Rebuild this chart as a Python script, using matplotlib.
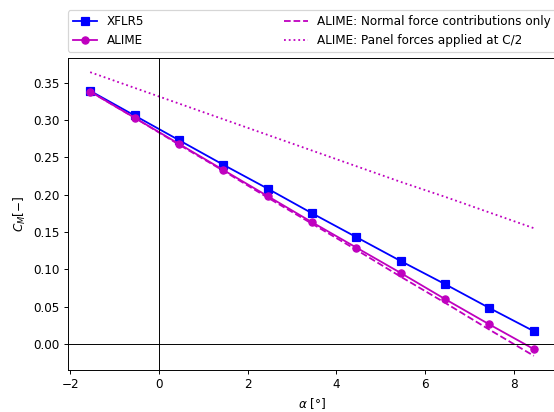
import matplotlib
matplotlib.use('Agg')
import matplotlib.pyplot as plt

# angle of attack [deg]
alpha = [-1.55, -0.55, 0.45, 1.45, 2.45, 3.45, 4.45, 5.45, 6.45, 7.45, 8.45]

# pitching moment coefficients
cm_xflr5 = [0.339, 0.306, 0.273, 0.240, 0.208, 0.175, 0.143, 0.111, 0.080, 0.048, 0.017]
cm_alime = [0.338, 0.303, 0.268, 0.233, 0.198, 0.163, 0.129, 0.095, 0.060, 0.026, -0.007]
cm_normal = [0.338, 0.303, 0.267, 0.232, 0.196, 0.161, 0.126, 0.090, 0.055, 0.019, -0.016]
cm_half = [0.364, 0.343, 0.322, 0.301, 0.280, 0.259, 0.238, 0.217, 0.197, 0.176, 0.155]

DPI = 86.5
fig = plt.figure(figsize=(554/DPI, 412/DPI), dpi=DPI)
ax = fig.add_axes([68/554, 42/412, 488/554, 312/412])

ax.plot(alpha, cm_xflr5, 'bs-', label='XFLR5')
ax.plot(alpha, cm_alime, 'mo-', label='ALIME')
ax.plot(alpha, cm_normal, 'm--', label='ALIME: Normal force contributions only')
ax.plot(alpha, cm_half, 'm:', label='ALIME: Panel forces applied at C/2')

ax.axhline(0, color='k', lw=0.8)
ax.axvline(0, color='k', lw=0.8)

ax.set_xlabel(r'$\alpha$ [°]')
ax.set_ylabel(r'$C_M [-]$')

ax.legend(bbox_to_anchor=(0, 1.02, 1, 0.2), loc='lower left', ncol=2,
          mode='expand', borderaxespad=0)

fig.savefig('out.png', dpi=DPI)
